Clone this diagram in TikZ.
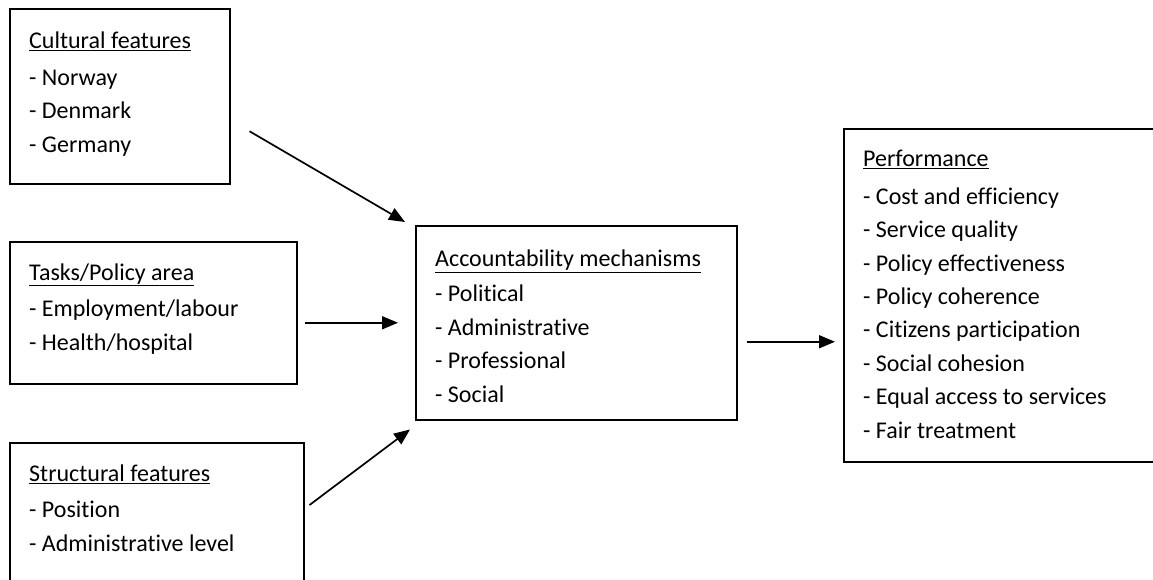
\documentclass[tikz,border=0pt]{standalone}
\usepackage{fontspec}
\setmainfont[Ligatures=NoCommon]{Carlito}
\usepackage{tikz}
\usetikzlibrary{arrows.meta, calc}

\begin{document}
\begin{tikzpicture}[
  x=1pt, y=-1pt,
  box/.style={rectangle, draw, line width=1.5pt, anchor=north west, inner sep=0pt},
  txt/.style={anchor=base west, inner sep=0pt, align=left, font=\fontsize{24}{33.4}\selectfont},
  arrow/.style={-{Triangle[length=16pt, width=13pt]}, line width=1.7pt},
]
  \useasboundingbox (0,0) rectangle (1153,579);
  \clip (0,0) rectangle (1153,579);

  % boxes
  \node[box, minimum width=220pt, minimum height=175pt] (cult) at (9,8) {};
  \node[box, minimum width=287pt, minimum height=142pt] (tasks) at (9,241) {};
  \node[box, minimum width=294pt, minimum height=160pt] (struct) at (9,442) {};
  \node[box, minimum width=321pt, minimum height=194pt] (acc) at (415,225) {};
  \node[box, minimum width=330pt, minimum height=333pt] (perf) at (843,128) {};

  % texts (placed at the baseline of the last line)
  \node[txt] (cultT) at (29,152) {\underline{Cultural features}\\[3pt]- Norway\\- Denmark\\- Germany};
  \node[txt] (tasksT) at (29,350) {\underline{Tasks/Policy area}\\[3pt]- Employment/labour\\- Health/hospital};
  \node[txt] (structT) at (29,551) {\underline{Structural features}\\[3pt]- Position\\- Administrative level};
  \node[txt] (accT) at (435,402) {\underline{Accountability mechanisms}\\[1.5pt]- Political\\- Administrative\\- Professional\\- Social};
  \node[txt] (perfT) at (863,438) {\underline{Performance}\\[4.5pt]- Cost and efficiency\\- Service quality\\- Policy effectiveness\\- Policy coherence\\- Citizens participation\\- Social cohesion\\- Equal access to services\\- Fair treatment};

  % arrows
  \draw[arrow] ($(cult.east)+(19,35)$) -- ($(acc.north west)+(-10,-3)$);
  \draw[arrow] ($(tasks.east)+(7,10)$) -- ($(acc.west)+(-17,0)$);
  \draw[arrow] ($(struct.north east)+(5,63)$) -- ($(acc.south west)+(-5,9)$);
  \draw[arrow] ($(acc.east)+(9,19)$) -- ($(perf.west)+(-8,46.5)$);
\end{tikzpicture}
\end{document}
